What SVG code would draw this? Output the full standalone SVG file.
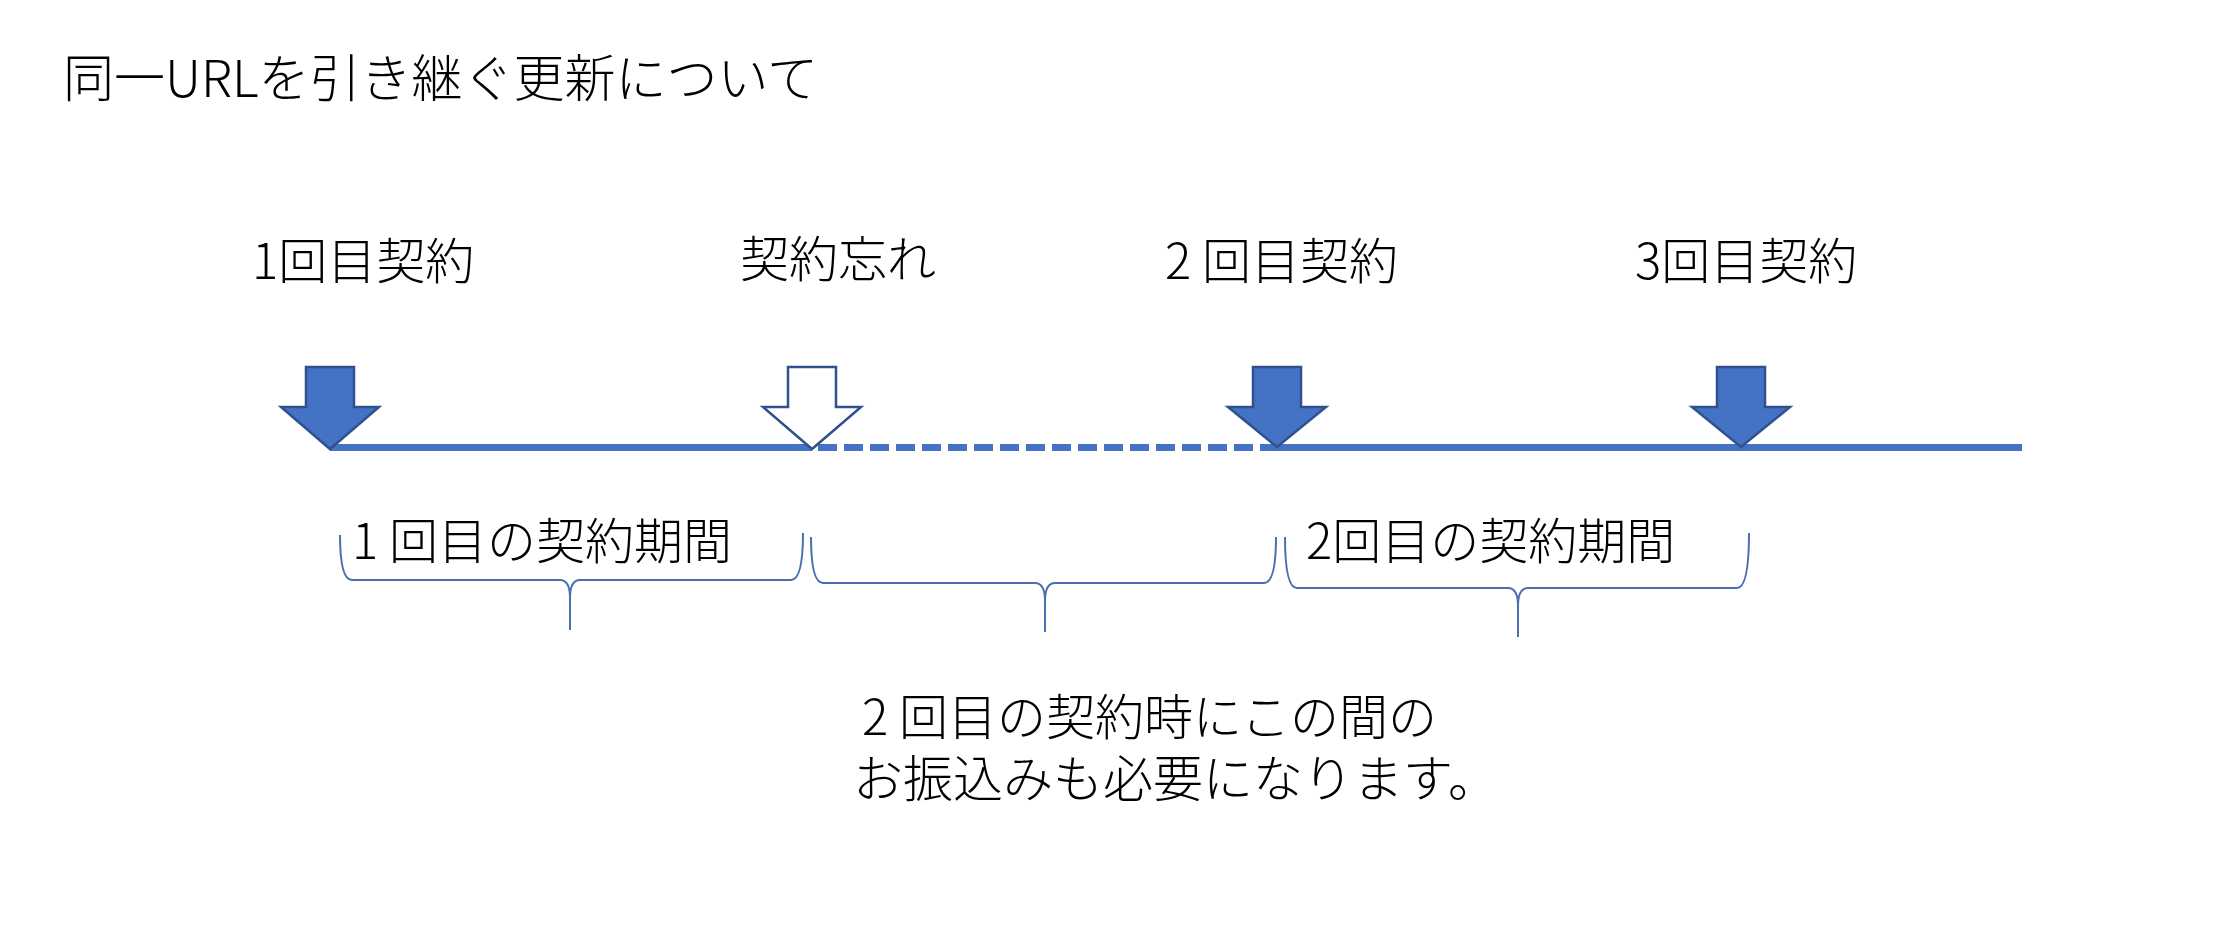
<svg xmlns="http://www.w3.org/2000/svg" width="2213" height="945" viewBox="0 0 2213 945">
<defs>
<style>
.t{font-family:"Noto Sans CJK JP","Noto Sans CJK SC",sans-serif;font-size:49px;font-weight:300;fill:#000}
.title{font-size:51px}
.arr{fill:#4472C4;stroke:#2F528F;stroke-width:2.5}
.hol{fill:#fff;stroke:#2F528F;stroke-width:2.5}
.line{stroke:#4472C4;stroke-width:7;fill:none}
.dash{stroke-dasharray:19 7}
.brace{fill:none;stroke:#4A6FB0;stroke-width:2}
</style>
</defs>
<rect width="2213" height="945" fill="#fff"/>
<g id="title"><text class="t title" x="63" y="97">同一URLを引き継ぐ更新について</text></g>

<g id="connectors">
<line class="line" x1="330" y1="447.5" x2="812" y2="447.5"/>
<line class="line dash" x1="818" y1="447.5" x2="1270" y2="447.5"/>
<line class="line" x1="1270" y1="447.5" x2="2022" y2="447.5"/>
</g>

<g id="contract1">
<text class="t" x="252" y="279">1回目契約</text>
<path class="arr" d="M306 367 H354 V407 H379 L330 449 L281 407 H306 Z"/>
</g>
<g id="forgot">
<text class="t" x="740" y="277">契約忘れ</text>
<path class="hol" d="M788 367 H836 V407 H861 L812 449 L763 407 H788 Z"/>
</g>
<g id="contract2">
<text class="t" x="1165" y="279">2 回目契約</text>
<path class="arr" d="M1253 367 H1301 V407 H1326 L1277 447 L1228 407 H1253 Z"/>
</g>
<g id="contract3">
<text class="t" x="1635" y="279">3回目契約</text>
<path class="arr" d="M1717 367 H1765 V407 H1790 L1741 447 L1692 407 H1717 Z"/>
</g>

<g id="period1">
<path class="brace" d="M340 535 Q340 580 352 580 L560 580 Q570 580 570 598 L570 630 M570 598 Q570 580 580 580 L791 580 Q803 580 803 533"/>
<text class="t" x="352" y="559">1 回目の契約期間</text>
</g>
<g id="gap">
<path class="brace" d="M811 537 Q811 583 823 583 L1035 583 Q1045 583 1045 601 L1045 632 M1045 601 Q1045 583 1055 583 L1264 583 Q1276 583 1276 537"/>
</g>
<g id="period2">
<path class="brace" d="M1285 537 Q1285 588 1297 588 L1508 588 Q1518 588 1518 606 L1518 637 M1518 606 Q1518 588 1528 588 L1737 588 Q1749 588 1749 533"/>
<text class="t" x="1306" y="559">2回目の契約期間</text>
</g>

<g id="note">
<text class="t"><tspan x="862" y="735">2 回目の契約時にこの間の</tspan><tspan x="853" y="797" style="font-size:50px">お振込みも必要になります。</tspan></text>
</g>
</svg>
